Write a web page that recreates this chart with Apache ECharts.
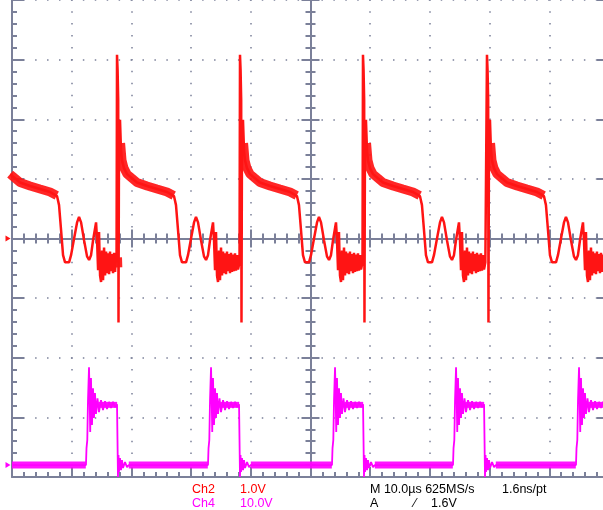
<!DOCTYPE html>
<html><head><meta charset="utf-8">
<script src="https://cdn.jsdelivr.net/npm/echarts@6/dist/echarts.min.js"></script>
<style>html,body{margin:0;padding:0;background:#fff}#c{width:603px;height:510px}</style>
</head><body><div id="c"></div>
<script>
// ---- axis ranges (10 µs/div, Ch2 1.0 V/div, Ch4 10.0 V/div) ----
const timeRange = [0, 100];
const ch2Range = [-4, 4];
const ch4Range = [-2, 78];

// ---- Ch2 (red): spike times (µs) and one period's shape [dt µs, V] ----
const ch2SpikeTimes = [-2.0, 17.59, 38.19, 58.79, 79.56];
const ch2Shape = [
  [-0.08,-0.40],[0.00,3.08],[0.10,2.82],[0.20,2.32],[0.25,-1.41],[0.34,1.90],[0.50,1.99],
  [0.67,1.48],[0.84,1.31],[1.17,1.18],[1.68,1.08],[2.51,1.01],[3.35,0.94],[5.03,0.88],
  [6.70,0.83],[8.38,0.78],[9.55,0.71],[9.88,0.56],[10.22,0.14],[10.55,-0.28],[10.89,-0.40],
  [11.22,-0.43],[11.56,-0.40],[11.89,-0.28],[12.40,0.00],[12.90,0.27],[13.23,0.36],
  [13.57,0.27],[14.07,-0.03],[14.57,-0.30],[14.91,-0.36],[15.24,-0.28],[15.58,-0.03],
  [15.91,0.17],[16.08,0.27],[16.25,-0.03],[16.42,-0.53],[16.58,0.11],[16.75,-0.62],
  [16.92,-0.73],[17.09,-0.20],[17.25,-0.70],[17.42,-0.15],[17.59,-0.62],[17.76,-0.22],
  [17.92,-0.58],[18.09,-0.25],[18.26,-0.60],[18.42,-0.22],[18.59,-0.55],[18.76,-0.26],
  [18.93,-0.58],[19.09,-0.24],[19.26,-0.56],[19.43,-0.27],[19.60,-0.55],[19.76,-0.25],
  [19.93,-0.54],[20.10,-0.28],[20.27,-0.52],[20.50,-0.40]
];
const ch2PlateauBand = [[0.60,1.60],[0.84,1.31],[1.17,1.18],[1.68,1.08],[2.51,1.01],[3.35,0.94],[5.03,0.88],[6.70,0.83],[8.38,0.78],[9.50,0.72]];
const ch2FloorBand = [[17.30,-0.41],[20.45,-0.40]];

// ---- Ch4 (magenta): pulse rise times (µs) and one pulse shape [dt µs, V] ----
const ch4RiseTimes = [12.56, 33.00, 53.77, 74.04, 94.64];
const ch4PulseShape = [
  [-0.17,0.0],[-0.08,2.85],[0.05,4.19],[0.17,10.9],[0.34,16.4],[0.44,11.7],[0.54,5.54],
  [0.67,14.6],[0.84,6.71],[1.01,12.9],[1.17,7.89],[1.34,12.1],[1.51,8.56],[1.76,11.2],
  [2.01,8.89],[2.35,10.9],[2.68,9.23],[3.02,10.7],[3.35,9.40],[3.69,10.6],[4.02,9.56],
  [4.36,10.6],[4.69,9.73],[5.03,10.2],[5.11,4.19],[5.19,-2.0],[5.28,1.68],[5.36,-1.17],
  [5.53,1.17],[5.70,-0.84],[5.86,0.84],[6.03,-0.50],[6.37,0.50],[6.70,-0.34],[7.00,0.0]
];
const ch4TopBand = [[1.90,10.1],[5.05,10.1]];
const ch4BaseLevel = 0;
const ch4SettleTime = 7.0;

// ---- readout texts ----
const chNames = ['Ch2', 'Ch4'];
const chScales = ['1.0V', '10.0V'];
const timeReadout = ['M 10.0\u00b5s 625MS/s', '1.6ns/pt'];
const trigReadout = ['A', '\u2044', '1.6V'];

const RED = '#ff1414', MAG = '#ff00ff', GRID = '#7b8099';
const T_START = -0.35;

function shift(shape, t0, tMax) {
  return shape.map(p => [t0 + p[0], p[1]]).filter(p => p[0] < tMax && p[0] >= T_START);
}

// Ch2 trace
let ch2Data = [];
ch2SpikeTimes.forEach((s, i) => {
  const next = i + 1 < ch2SpikeTimes.length ? ch2SpikeTimes[i + 1] : Infinity;
  ch2Data = ch2Data.concat(shift(ch2Shape, s, next - 0.1));
});
// Ch4 trace
let ch4Data = [[timeRange[0], ch4BaseLevel]];
ch4RiseTimes.forEach(r => { ch4Data = ch4Data.concat(shift(ch4PulseShape, r, Infinity)); });

const series = [];
function band(data, color, width, yIdx) {
  if (data.length < 2) return;
  series.push({type:'line', xAxisIndex:0, yAxisIndex:yIdx, data, showSymbol:false, symbol:'none',
    silent:true, lineStyle:{color, width, opacity:0.92, cap:'butt'}, z:3});
}
ch2SpikeTimes.forEach(s => {
  band(shift(ch2PlateauBand, s, Infinity), RED, 9, 0);
  band(shift(ch2FloorBand, s, Infinity), RED, 10, 0);
});
ch4RiseTimes.forEach((r, i) => {
  band(shift(ch4TopBand, r, Infinity), MAG, 6, 1);
  const start = i === 0 ? timeRange[0] : ch4RiseTimes[i - 1] + ch4SettleTime;
  band([[start, ch4BaseLevel], [r - 0.2, ch4BaseLevel]], MAG, 7, 1);
});
series.push({type:'line', name:'Ch2', xAxisIndex:0, yAxisIndex:0, data:ch2Data, showSymbol:false, symbol:'none',
  silent:true, lineStyle:{color:RED, width:2.5}, z:4,
  markPoint:{symbol:'triangle', symbolSize:[6,5], symbolRotate:-90, symbolOffset:[-4,0], silent:true,
    itemStyle:{color:RED}, label:{show:false}, data:[{coord:[timeRange[0], 0]}]}});
series.push({type:'line', name:'Ch4', xAxisIndex:0, yAxisIndex:1, data:ch4Data, showSymbol:false, symbol:'none',
  silent:true, lineStyle:{color:MAG, width:1.8}, z:4,
  markPoint:{symbol:'triangle', symbolSize:[6,5], symbolRotate:-90, symbolOffset:[-4,0], silent:true,
    itemStyle:{color:MAG}, label:{show:false}, data:[{coord:[timeRange[0], ch4BaseLevel]}]}});

const ls = {color:GRID, width:2};
const dots = {color:GRID, width:1.5, type:[1.5, 10.43], dashOffset:0.75};
function xAx(o) {
  return Object.assign({type:'value', min:timeRange[0], max:timeRange[1], interval:10,
    axisLabel:{show:false}, splitLine:{show:false}, minorSplitLine:{show:false}}, o);
}
function yAx(o) {
  return Object.assign({type:'value', min:ch2Range[0], max:ch2Range[1], interval:1,
    axisLabel:{show:false}, splitLine:{show:false}, minorSplitLine:{show:false}}, o);
}

const font = '12.5px "Liberation Sans", Arial, sans-serif';
function txt(x, y, text, fill) {
  return {type:'text', x, y, silent:true, style:{text, fill, font, verticalAlign:'middle', align:'left'}};
}

const option = {
  animation:false,
  backgroundColor:'#ffffff',
  grid:{left:12, top:0, width:597, height:477, outerBoundsMode:'none', containLabel:false},
  xAxis:[
    xAx({position:'bottom', axisLine:{show:true, onZero:false, lineStyle:ls},
      axisTick:{show:true, inside:true, length:10, lineStyle:ls},
      minorTick:{show:true, splitNumber:5, length:5, lineStyle:ls},
      splitLine:{show:true, lineStyle:dots}}),
    xAx({position:'bottom', axisLine:{show:true, onZero:true, onZeroAxisIndex:0, lineStyle:ls},
      axisTick:{show:true, inside:true, length:9, lineStyle:ls},
      minorTick:{show:true, splitNumber:5, length:5, lineStyle:ls}}),
    xAx({position:'bottom', axisLine:{show:true, onZero:true, onZeroAxisIndex:0, lineStyle:ls},
      axisTick:{show:true, inside:false, length:9, lineStyle:ls},
      minorTick:{show:true, splitNumber:5, length:5, lineStyle:ls}})
  ],
  yAxis:[
    yAx({position:'left', axisLine:{show:true, onZero:false, lineStyle:ls},
      axisTick:{show:true, inside:true, length:12, lineStyle:ls},
      minorTick:{show:true, splitNumber:5, length:5, lineStyle:ls},
      splitLine:{show:true, lineStyle:dots}}),
    {type:'value', min:ch4Range[0], max:ch4Range[1], show:false},
    yAx({position:'right', axisLine:{show:true, onZero:false, lineStyle:ls},
      axisTick:{show:true, inside:true, length:12, lineStyle:ls},
      minorTick:{show:true, splitNumber:5, length:5, lineStyle:ls}}),
    yAx({position:'left', offset:-298.5, axisLine:{show:true, onZero:false, lineStyle:ls},
      axisTick:{show:true, inside:true, length:9, lineStyle:ls},
      minorTick:{show:true, splitNumber:5, length:5, lineStyle:ls}}),
    yAx({position:'left', offset:-298.5, axisLine:{show:true, onZero:false, lineStyle:ls},
      axisTick:{show:true, inside:false, length:9, lineStyle:ls},
      minorTick:{show:true, splitNumber:5, length:5, lineStyle:ls}})
  ],
  series,
  graphic:[
    txt(192, 489.5, chNames[0], '#ff0000'),
    txt(240, 489.5, chScales[0], '#ff0000'),
    txt(192, 503.5, chNames[1], '#ff00ff'),
    txt(240, 503.5, chScales[1], '#ff00ff'),
    txt(370, 489.5, timeReadout[0], '#000000'),
    txt(502, 489.5, timeReadout[1], '#000000'),
    txt(370, 503.5, trigReadout[0], '#000000'),
    txt(414, 503.5, trigReadout[1], '#000000'),
    txt(431, 503.5, trigReadout[2], '#000000')
  ]
};
const chart = echarts.init(document.getElementById('c'), null, {renderer:'canvas', width:603, height:510});
chart.setOption(option);
</script></body></html>
